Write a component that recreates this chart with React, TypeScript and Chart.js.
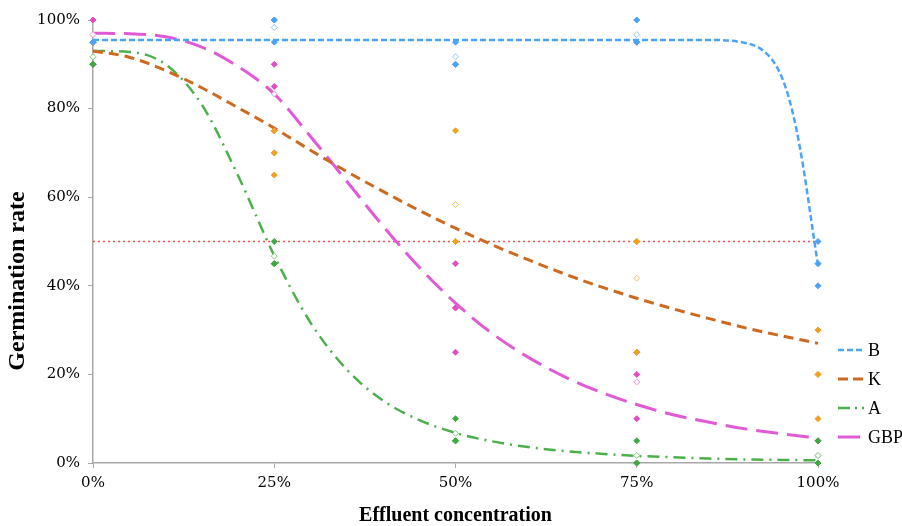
import React, { useEffect, useRef } from 'react';
import { Chart, registerables } from 'chart.js';

Chart.register(...registerables);

// ---------- data ----------
const seriesNames = ['B', 'K', 'A', 'GBP'];
const concentrations = [0, 25, 50, 75, 100];
const xTickValues = [0, 25, 50, 75, 100];
const yTickValues = [0, 20, 40, 60, 80, 100];
const thresholdValue = 50;
const xTitle = 'Effluent concentration';
const yTitle = 'Germination rate';

// observed replicates (germination %) and their means
const bRep1 = [95, 100, 95, 100, 50];
const bRep2 = [95, 100, 90, 95, 45];
const bRep3 = [95, 95, 90, 95, 40];
const bMean = [95, 98.3, 91.7, 96.7, 45];

const kRep1 = [95, 75, 75, 50, 30];
const kRep2 = [95, 70, 50, 50, 20];
const kRep3 = [95, 65, 50, 25, 10];
const kMean = [95, 70, 58.3, 41.7, 20];

const aRep1 = [95, 50, 10, 5, 5];
const aRep2 = [90, 45, 5, 0, 0];
const aRep3 = [90, 45, 5, 0, 0];
const aMean = [91.7, 46.7, 6.7, 1.7, 1.7];

const gRep1 = [100, 90, 45, 25, 5];
const gRep2 = [100, 85, 35, 20, 0];
const gRep3 = [90, 75, 25, 10, 0];
const gMean = [96.7, 83.3, 35, 18.3, 1.7];

// fitted curves
const bCurveX = [0, 10, 20, 30, 40, 50, 60, 70, 80, 85, 90, 92, 94, 95, 96, 97, 98, 99, 100];
const bCurve = [95.5, 95.5, 95.5, 95.5, 95.5, 95.5, 95.5, 95.5, 95.5, 95.5, 94.8, 93.6, 90.3, 87.1, 82.3, 75.5, 66.5, 55.6, 44.5];

const curveX = [0, 5, 10, 15, 20, 25, 30, 35, 40, 45, 50, 55, 60, 65, 70, 75, 80, 85, 90, 95, 100];
const kCurve = [93, 91.6, 88.6, 84.7, 80.2, 75.6, 70.6, 65.8, 61.3, 57.0, 53.0, 49.3, 45.9, 42.7, 39.8, 37.2, 34.8, 32.6, 30.5, 28.7, 27.0];
const aCurve = [93, 92.8, 90.0, 80.9, 64.9, 46.8, 31.7, 21.1, 14.1, 9.7, 6.8, 4.9, 3.6, 2.7, 2.1, 1.6, 1.3, 1.0, 0.8, 0.7, 0.6];
const gCurve = [97, 96.9, 96.2, 93.9, 89.5, 83.3, 73.7, 63.6, 53.5, 44.2, 36.1, 29.3, 23.9, 19.5, 16.0, 13.2, 10.9, 9.2, 7.7, 6.6, 5.6];

// ---------- styles ----------
const curveStyles = [
  { color: '#4da3f5', width: 2.5, dash: [6, 3], legendDash: [6, 3] },
  { color: '#cc6a22', width: 3, dash: [10, 6], legendDash: [10, 5] },
  { color: '#4caf4c', width: 2.5, dash: [12, 6, 2, 6], legendDash: [12, 5, 2, 5] },
  { color: '#e05ad5', width: 3, dash: [22, 9], legendDash: [22, 9] },
];
const pointColors = ['#4aa3f7', '#f2a020', '#3fab3f', '#e04cc6'];
const hollowColors = ['#8cc4fa', '#f5c060', '#7fcb7f', '#ee8ee0'];

const toXY = (xs: number[], ys: number[]) => xs.map((x, i) => ({ x, y: ys[i] }));

const sideLegend = {
  id: 'sideLegend',
  afterDraw(chart: any) {
    const ctx = chart.ctx;
    const x0 = chart.chartArea.right + 20;
    let y = 350;
    curveStyles.forEach((s, i) => {
      ctx.save();
      ctx.strokeStyle = s.color;
      ctx.lineWidth = s.width;
      ctx.setLineDash(s.legendDash);
      ctx.beginPath();
      ctx.moveTo(x0, y);
      ctx.lineTo(x0 + 26, y);
      ctx.stroke();
      ctx.setLineDash([]);
      ctx.fillStyle = '#000';
      ctx.font = '18px "Liberation Serif"';
      ctx.textBaseline = 'middle';
      ctx.textAlign = 'left';
      ctx.fillText(seriesNames[i], x0 + 30, y + 1);
      ctx.restore();
      y += 29;
    });
    // y axis title
    ctx.save();
    ctx.translate(18, 281);
    ctx.rotate(-Math.PI / 2);
    ctx.fillStyle = '#000';
    ctx.font = 'bold 24px "Liberation Serif"';
    ctx.textAlign = 'center';
    ctx.textBaseline = 'middle';
    ctx.fillText(yTitle, 0, 0);
    ctx.restore();
  },
};

export default function App() {
  const canvasRef = useRef<HTMLCanvasElement | null>(null);

  useEffect(() => {
    document.body.style.margin = '0';
    const canvas = canvasRef.current;
    if (!canvas) return;

    const reps = [
      [bRep1, bRep2, bRep3, bMean],
      [kRep1, kRep2, kRep3, kMean],
      [aRep1, aRep2, aRep3, aMean],
      [gRep1, gRep2, gRep3, gMean],
    ];
    const curves = [
      toXY(bCurveX, bCurve),
      toXY(curveX, kCurve),
      toXY(curveX, aCurve),
      toXY(curveX, gCurve),
    ];

    const datasets: any[] = [];
    datasets.push({
      type: 'line',
      label: '50%',
      data: [
        { x: xTickValues[0], y: thresholdValue },
        { x: xTickValues[xTickValues.length - 1], y: thresholdValue },
      ],
      borderColor: '#ee5050',
      borderWidth: 1.5,
      borderDash: [2, 3],
      pointRadius: 0,
      order: 3,
    });
    curves.forEach((c, i) => {
      datasets.push({
        type: 'line',
        label: seriesNames[i],
        data: c,
        borderColor: curveStyles[i].color,
        borderWidth: curveStyles[i].width,
        borderDash: curveStyles[i].dash,
        cubicInterpolationMode: 'monotone',
        pointRadius: 0,
        fill: false,
        order: 2,
        clip: false,
      });
    });
    reps.forEach((set, i) => {
      set.forEach((vals, j) => {
        const hollow = j === 3;
        datasets.push({
          type: 'scatter',
          label: seriesNames[i] + (hollow ? ' mean' : ' rep' + (j + 1)),
          data: toXY(concentrations, vals),
          pointStyle: 'rectRot',
          pointRadius: 3,
          borderWidth: 1,
          borderColor: hollow ? hollowColors[i] : pointColors[i],
          backgroundColor: hollow ? '#ffffff' : pointColors[i],
          showLine: false,
          order: hollow ? 1 : 0,
          clip: false,
        });
      });
    });

    const chart = new Chart(canvas, {
      type: 'scatter',
      data: { datasets },
      plugins: [sideLegend],
      options: {
        animation: false,
        responsive: false,
        maintainAspectRatio: false,
        layout: { padding: { left: 0, right: 84, top: 20, bottom: 0 } },
        plugins: {
          legend: { display: false },
          tooltip: { enabled: false },
        },
        scales: {
          x: {
            type: 'linear',
            min: 0,
            max: 100,
            afterFit: (s: any) => { s.height = 63; },
            afterBuildTicks: (s: any) => { s.ticks = xTickValues.map((v) => ({ value: v })); },
            grid: { drawOnChartArea: false, drawTicks: true, tickLength: 5, color: '#a8a8a8' },
            border: { color: '#a8a8a8', width: 1.5 },
            ticks: {
              padding: 6,
              color: '#000',
              font: { family: '"DejaVu Serif"', size: 15 },
              callback: (v: any) => v + '%',
            },
            title: {
              display: true,
              text: xTitle,
              color: '#000',
              font: { family: '"Liberation Serif"', size: 20, weight: 'bold', lineHeight: 1 },
              padding: { top: 0, bottom: 0 },
            },
          },
          y: {
            type: 'linear',
            min: 0,
            max: 100,
            afterFit: (s: any) => { s.width = 93; },
            afterBuildTicks: (s: any) => { s.ticks = yTickValues.map((v) => ({ value: v })); },
            grid: { drawOnChartArea: false, drawTicks: true, tickLength: 5, color: '#a8a8a8' },
            border: { color: '#a8a8a8', width: 1.5 },
            ticks: {
              padding: 8,
              color: '#000',
              font: { family: '"DejaVu Serif"', size: 15 },
              callback: (v: any) => v + '%',
            },
          },
        },
      } as any,
    });

    return () => chart.destroy();
  }, []);

  return (
    <div style={{ width: 902, height: 526 }}>
      <canvas ref={canvasRef} width={902} height={526} />
    </div>
  );
}
